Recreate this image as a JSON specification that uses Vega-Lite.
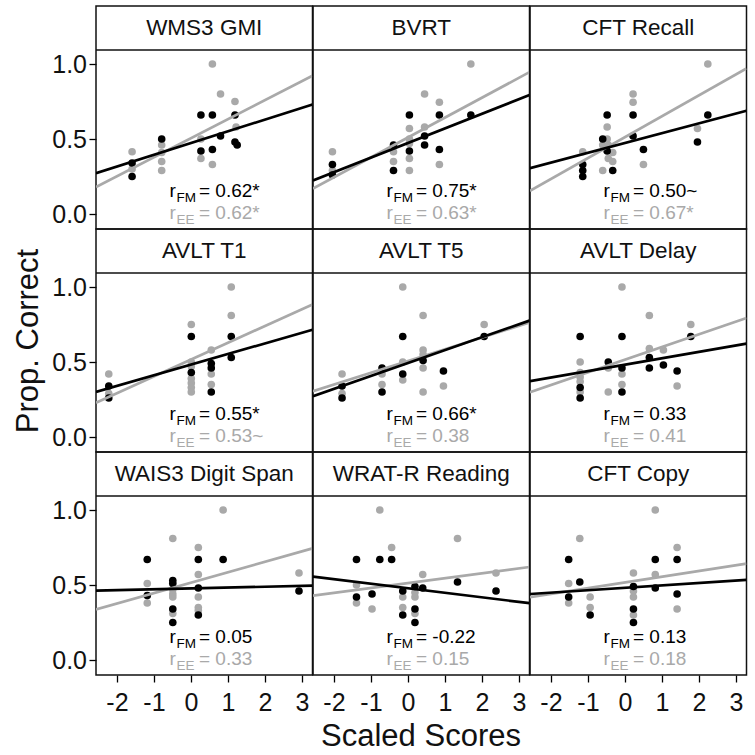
{
"$schema": "https://vega.github.io/schema/vega-lite/v6.json",
"padding": {"left": 12, "top": 5, "right": 5, "bottom": 3},
"bounds": "flush",
"data": {"values": [
{"r":1,"c":1,"k":"s","t":"WMS3 GMI"},
{"r":1,"c":2,"k":"s","t":"BVRT"},
{"r":1,"c":3,"k":"s","t":"CFT Recall"},
{"r":2,"c":1,"k":"s","t":"AVLT T1"},
{"r":2,"c":2,"k":"s","t":"AVLT T5"},
{"r":2,"c":3,"k":"s","t":"AVLT Delay"},
{"r":3,"c":1,"k":"s","t":"WAIS3 Digit Span"},
{"r":3,"c":2,"k":"s","t":"WRAT-R Reading"},
{"r":3,"c":3,"k":"s","t":"CFT Copy"},

{"r":1,"c":1,"k":"a","g":"FM","t":"= 0.62*"},{"r":1,"c":1,"k":"a","g":"EE","t":"= 0.62*"},
{"r":1,"c":2,"k":"a","g":"FM","t":"= 0.75*"},{"r":1,"c":2,"k":"a","g":"EE","t":"= 0.63*"},
{"r":1,"c":3,"k":"a","g":"FM","t":"= 0.50~"},{"r":1,"c":3,"k":"a","g":"EE","t":"= 0.67*"},
{"r":2,"c":1,"k":"a","g":"FM","t":"= 0.55*"},{"r":2,"c":1,"k":"a","g":"EE","t":"= 0.53~"},
{"r":2,"c":2,"k":"a","g":"FM","t":"= 0.66*"},{"r":2,"c":2,"k":"a","g":"EE","t":"= 0.38"},
{"r":2,"c":3,"k":"a","g":"FM","t":"= 0.33"},{"r":2,"c":3,"k":"a","g":"EE","t":"= 0.41"},
{"r":3,"c":1,"k":"a","g":"FM","t":"= 0.05"},{"r":3,"c":1,"k":"a","g":"EE","t":"= 0.33"},
{"r":3,"c":2,"k":"a","g":"FM","t":"= -0.22"},{"r":3,"c":2,"k":"a","g":"EE","t":"= 0.15"},
{"r":3,"c":3,"k":"a","g":"FM","t":"= 0.13"},{"r":3,"c":3,"k":"a","g":"EE","t":"= 0.18"},

{"r":1,"c":1,"k":"l","g":"EE","x":-2.565,"y":0.180},{"r":1,"c":1,"k":"l","g":"EE","x":3.285,"y":0.922},
{"r":1,"c":1,"k":"l","g":"FM","x":-2.565,"y":0.272},{"r":1,"c":1,"k":"l","g":"FM","x":3.285,"y":0.730},
{"r":1,"c":2,"k":"l","g":"EE","x":-2.565,"y":0.169},{"r":1,"c":2,"k":"l","g":"EE","x":3.285,"y":0.946},
{"r":1,"c":2,"k":"l","g":"FM","x":-2.565,"y":0.2235},{"r":1,"c":2,"k":"l","g":"FM","x":3.285,"y":0.793},
{"r":1,"c":3,"k":"l","g":"EE","x":-2.565,"y":0.154},{"r":1,"c":3,"k":"l","g":"EE","x":3.285,"y":0.970},
{"r":1,"c":3,"k":"l","g":"FM","x":-2.565,"y":0.305},{"r":1,"c":3,"k":"l","g":"FM","x":3.285,"y":0.688},
{"r":2,"c":1,"k":"l","g":"EE","x":-2.565,"y":0.228},{"r":2,"c":1,"k":"l","g":"EE","x":3.285,"y":0.884},
{"r":2,"c":1,"k":"l","g":"FM","x":-2.565,"y":0.301},{"r":2,"c":1,"k":"l","g":"FM","x":3.285,"y":0.715},
{"r":2,"c":2,"k":"l","g":"EE","x":-2.565,"y":0.305},{"r":2,"c":2,"k":"l","g":"EE","x":3.285,"y":0.764},
{"r":2,"c":2,"k":"l","g":"FM","x":-2.565,"y":0.272},{"r":2,"c":2,"k":"l","g":"FM","x":3.285,"y":0.776},
{"r":2,"c":3,"k":"l","g":"EE","x":-2.565,"y":0.299},{"r":2,"c":3,"k":"l","g":"EE","x":3.285,"y":0.794},
{"r":2,"c":3,"k":"l","g":"FM","x":-2.565,"y":0.372},{"r":2,"c":3,"k":"l","g":"FM","x":3.285,"y":0.623},
{"r":3,"c":1,"k":"l","g":"EE","x":-2.565,"y":0.337},{"r":3,"c":1,"k":"l","g":"EE","x":3.285,"y":0.744},
{"r":3,"c":1,"k":"l","g":"FM","x":-2.565,"y":0.462},{"r":3,"c":1,"k":"l","g":"FM","x":3.285,"y":0.496},
{"r":3,"c":2,"k":"l","g":"EE","x":-2.565,"y":0.429},{"r":3,"c":2,"k":"l","g":"EE","x":3.285,"y":0.620},
{"r":3,"c":2,"k":"l","g":"FM","x":-2.565,"y":0.556},{"r":3,"c":2,"k":"l","g":"FM","x":3.285,"y":0.379},
{"r":3,"c":3,"k":"l","g":"EE","x":-2.565,"y":0.419},{"r":3,"c":3,"k":"l","g":"EE","x":3.285,"y":0.642},
{"r":3,"c":3,"k":"l","g":"FM","x":-2.565,"y":0.440},{"r":3,"c":3,"k":"l","g":"FM","x":3.285,"y":0.534},

{"r":1,"c":1,"k":"p","g":"EE","x":-1.59,"y":0.415},{"r":1,"c":1,"k":"p","g":"EE","x":-1.59,"y":0.30},{"r":1,"c":1,"k":"p","g":"EE","x":-0.79,"y":0.46},{"r":1,"c":1,"k":"p","g":"EE","x":-0.79,"y":0.41},{"r":1,"c":1,"k":"p","g":"EE","x":-0.79,"y":0.35},{"r":1,"c":1,"k":"p","g":"EE","x":-0.79,"y":0.29},{"r":1,"c":1,"k":"p","g":"EE","x":0.27,"y":0.50},{"r":1,"c":1,"k":"p","g":"EE","x":0.27,"y":0.37},{"r":1,"c":1,"k":"p","g":"EE","x":0.58,"y":1.0},{"r":1,"c":1,"k":"p","g":"EE","x":0.58,"y":0.33},{"r":1,"c":1,"k":"p","g":"EE","x":0.80,"y":0.80},{"r":1,"c":1,"k":"p","g":"EE","x":1.19,"y":0.75},{"r":1,"c":1,"k":"p","g":"EE","x":1.22,"y":0.58},
{"r":1,"c":1,"k":"p","g":"FM","x":-1.59,"y":0.34},{"r":1,"c":1,"k":"p","g":"FM","x":-1.59,"y":0.25},{"r":1,"c":1,"k":"p","g":"FM","x":-0.79,"y":0.50},{"r":1,"c":1,"k":"p","g":"FM","x":0.27,"y":0.66},{"r":1,"c":1,"k":"p","g":"FM","x":0.27,"y":0.42},{"r":1,"c":1,"k":"p","g":"FM","x":0.58,"y":0.66},{"r":1,"c":1,"k":"p","g":"FM","x":0.58,"y":0.43},{"r":1,"c":1,"k":"p","g":"FM","x":0.80,"y":0.52},{"r":1,"c":1,"k":"p","g":"FM","x":1.19,"y":0.66},{"r":1,"c":1,"k":"p","g":"FM","x":1.19,"y":0.48},{"r":1,"c":1,"k":"p","g":"FM","x":1.25,"y":0.46},

{"r":1,"c":2,"k":"p","g":"EE","x":-2.04,"y":0.415},{"r":1,"c":2,"k":"p","g":"EE","x":-2.04,"y":0.29},{"r":1,"c":2,"k":"p","g":"EE","x":-0.39,"y":0.415},{"r":1,"c":2,"k":"p","g":"EE","x":-0.39,"y":0.35},{"r":1,"c":2,"k":"p","g":"EE","x":0.04,"y":0.57},{"r":1,"c":2,"k":"p","g":"EE","x":0.04,"y":0.50},{"r":1,"c":2,"k":"p","g":"EE","x":0.04,"y":0.47},{"r":1,"c":2,"k":"p","g":"EE","x":0.04,"y":0.37},{"r":1,"c":2,"k":"p","g":"EE","x":0.04,"y":0.29},{"r":1,"c":2,"k":"p","g":"EE","x":0.45,"y":0.80},{"r":1,"c":2,"k":"p","g":"EE","x":0.45,"y":0.58},{"r":1,"c":2,"k":"p","g":"EE","x":0.85,"y":0.745},{"r":1,"c":2,"k":"p","g":"EE","x":0.85,"y":0.33},{"r":1,"c":2,"k":"p","g":"EE","x":1.70,"y":1.0},
{"r":1,"c":2,"k":"p","g":"FM","x":-2.04,"y":0.33},{"r":1,"c":2,"k":"p","g":"FM","x":-2.04,"y":0.26},{"r":1,"c":2,"k":"p","g":"FM","x":-0.39,"y":0.46},{"r":1,"c":2,"k":"p","g":"FM","x":-0.39,"y":0.29},{"r":1,"c":2,"k":"p","g":"FM","x":0.04,"y":0.66},{"r":1,"c":2,"k":"p","g":"FM","x":0.04,"y":0.42},{"r":1,"c":2,"k":"p","g":"FM","x":0.45,"y":0.52},{"r":1,"c":2,"k":"p","g":"FM","x":0.45,"y":0.46},{"r":1,"c":2,"k":"p","g":"FM","x":0.85,"y":0.66},{"r":1,"c":2,"k":"p","g":"FM","x":0.85,"y":0.43},{"r":1,"c":2,"k":"p","g":"FM","x":1.70,"y":0.66},

{"r":1,"c":3,"k":"p","g":"EE","x":-1.14,"y":0.415},{"r":1,"c":3,"k":"p","g":"EE","x":-0.60,"y":0.46},{"r":1,"c":3,"k":"p","g":"EE","x":-0.60,"y":0.29},{"r":1,"c":3,"k":"p","g":"EE","x":-0.48,"y":0.58},{"r":1,"c":3,"k":"p","g":"EE","x":-0.48,"y":0.50},{"r":1,"c":3,"k":"p","g":"EE","x":-0.45,"y":0.46},{"r":1,"c":3,"k":"p","g":"EE","x":-0.45,"y":0.37},{"r":1,"c":3,"k":"p","g":"EE","x":-0.33,"y":0.41},{"r":1,"c":3,"k":"p","g":"EE","x":-0.33,"y":0.35},{"r":1,"c":3,"k":"p","g":"EE","x":0.22,"y":0.80},{"r":1,"c":3,"k":"p","g":"EE","x":0.22,"y":0.745},{"r":1,"c":3,"k":"p","g":"EE","x":0.50,"y":0.33},{"r":1,"c":3,"k":"p","g":"EE","x":1.96,"y":0.57},{"r":1,"c":3,"k":"p","g":"EE","x":2.24,"y":1.0},
{"r":1,"c":3,"k":"p","g":"FM","x":-1.14,"y":0.33},{"r":1,"c":3,"k":"p","g":"FM","x":-1.14,"y":0.29},{"r":1,"c":3,"k":"p","g":"FM","x":-1.14,"y":0.25},{"r":1,"c":3,"k":"p","g":"FM","x":-0.60,"y":0.50},{"r":1,"c":3,"k":"p","g":"FM","x":-0.48,"y":0.66},{"r":1,"c":3,"k":"p","g":"FM","x":-0.48,"y":0.42},{"r":1,"c":3,"k":"p","g":"FM","x":-0.33,"y":0.29},{"r":1,"c":3,"k":"p","g":"FM","x":0.22,"y":0.66},{"r":1,"c":3,"k":"p","g":"FM","x":0.22,"y":0.52},{"r":1,"c":3,"k":"p","g":"FM","x":0.50,"y":0.43},{"r":1,"c":3,"k":"p","g":"FM","x":1.96,"y":0.48},{"r":1,"c":3,"k":"p","g":"FM","x":2.24,"y":0.66},

{"r":2,"c":1,"k":"p","g":"EE","x":-2.22,"y":0.42},{"r":2,"c":1,"k":"p","g":"EE","x":-2.22,"y":0.29},{"r":2,"c":1,"k":"p","g":"EE","x":0.01,"y":0.75},{"r":2,"c":1,"k":"p","g":"EE","x":0.01,"y":0.50},{"r":2,"c":1,"k":"p","g":"EE","x":0.01,"y":0.47},{"r":2,"c":1,"k":"p","g":"EE","x":0.01,"y":0.39},{"r":2,"c":1,"k":"p","g":"EE","x":0.01,"y":0.36},{"r":2,"c":1,"k":"p","g":"EE","x":0.01,"y":0.33},{"r":2,"c":1,"k":"p","g":"EE","x":0.01,"y":0.30},{"r":2,"c":1,"k":"p","g":"EE","x":0.55,"y":0.58},{"r":2,"c":1,"k":"p","g":"EE","x":0.55,"y":0.42},{"r":2,"c":1,"k":"p","g":"EE","x":0.55,"y":0.35},{"r":2,"c":1,"k":"p","g":"EE","x":1.09,"y":1.0},{"r":2,"c":1,"k":"p","g":"EE","x":1.09,"y":0.81},
{"r":2,"c":1,"k":"p","g":"FM","x":-2.22,"y":0.34},{"r":2,"c":1,"k":"p","g":"FM","x":-2.22,"y":0.26},{"r":2,"c":1,"k":"p","g":"FM","x":0.01,"y":0.67},{"r":2,"c":1,"k":"p","g":"FM","x":0.01,"y":0.43},{"r":2,"c":1,"k":"p","g":"FM","x":0.55,"y":0.49},{"r":2,"c":1,"k":"p","g":"FM","x":0.55,"y":0.46},{"r":2,"c":1,"k":"p","g":"FM","x":0.55,"y":0.30},{"r":2,"c":1,"k":"p","g":"FM","x":1.09,"y":0.67},{"r":2,"c":1,"k":"p","g":"FM","x":1.09,"y":0.53},

{"r":2,"c":2,"k":"p","g":"EE","x":-1.78,"y":0.42},{"r":2,"c":2,"k":"p","g":"EE","x":-1.78,"y":0.29},{"r":2,"c":2,"k":"p","g":"EE","x":-0.70,"y":0.42},{"r":2,"c":2,"k":"p","g":"EE","x":-0.70,"y":0.35},{"r":2,"c":2,"k":"p","g":"EE","x":-0.14,"y":1.0},{"r":2,"c":2,"k":"p","g":"EE","x":-0.14,"y":0.50},{"r":2,"c":2,"k":"p","g":"EE","x":-0.14,"y":0.38},{"r":2,"c":2,"k":"p","g":"EE","x":0.41,"y":0.81},{"r":2,"c":2,"k":"p","g":"EE","x":0.41,"y":0.58},{"r":2,"c":2,"k":"p","g":"EE","x":0.41,"y":0.55},{"r":2,"c":2,"k":"p","g":"EE","x":0.41,"y":0.46},{"r":2,"c":2,"k":"p","g":"EE","x":0.41,"y":0.30},{"r":2,"c":2,"k":"p","g":"EE","x":0.96,"y":0.34},{"r":2,"c":2,"k":"p","g":"EE","x":2.06,"y":0.75},
{"r":2,"c":2,"k":"p","g":"FM","x":-1.78,"y":0.34},{"r":2,"c":2,"k":"p","g":"FM","x":-1.78,"y":0.26},{"r":2,"c":2,"k":"p","g":"FM","x":-0.70,"y":0.46},{"r":2,"c":2,"k":"p","g":"FM","x":-0.70,"y":0.30},{"r":2,"c":2,"k":"p","g":"FM","x":-0.14,"y":0.67},{"r":2,"c":2,"k":"p","g":"FM","x":-0.14,"y":0.42},{"r":2,"c":2,"k":"p","g":"FM","x":0.41,"y":0.51},{"r":2,"c":2,"k":"p","g":"FM","x":0.96,"y":0.44},{"r":2,"c":2,"k":"p","g":"FM","x":2.06,"y":0.67},

{"r":2,"c":3,"k":"p","g":"EE","x":-1.21,"y":0.50},{"r":2,"c":3,"k":"p","g":"EE","x":-1.21,"y":0.43},{"r":2,"c":3,"k":"p","g":"EE","x":-1.21,"y":0.40},{"r":2,"c":3,"k":"p","g":"EE","x":-1.21,"y":0.37},{"r":2,"c":3,"k":"p","g":"EE","x":-1.21,"y":0.30},{"r":2,"c":3,"k":"p","g":"EE","x":-0.45,"y":0.46},{"r":2,"c":3,"k":"p","g":"EE","x":-0.45,"y":0.30},{"r":2,"c":3,"k":"p","g":"EE","x":-0.08,"y":1.0},{"r":2,"c":3,"k":"p","g":"EE","x":-0.08,"y":0.42},{"r":2,"c":3,"k":"p","g":"EE","x":-0.08,"y":0.35},{"r":2,"c":3,"k":"p","g":"EE","x":0.66,"y":0.81},{"r":2,"c":3,"k":"p","g":"EE","x":0.66,"y":0.59},{"r":2,"c":3,"k":"p","g":"EE","x":1.04,"y":0.58},{"r":2,"c":3,"k":"p","g":"EE","x":1.41,"y":0.34},{"r":2,"c":3,"k":"p","g":"EE","x":1.78,"y":0.75},
{"r":2,"c":3,"k":"p","g":"FM","x":-1.21,"y":0.67},{"r":2,"c":3,"k":"p","g":"FM","x":-1.21,"y":0.33},{"r":2,"c":3,"k":"p","g":"FM","x":-1.21,"y":0.26},{"r":2,"c":3,"k":"p","g":"FM","x":-0.45,"y":0.50},{"r":2,"c":3,"k":"p","g":"FM","x":-0.08,"y":0.67},{"r":2,"c":3,"k":"p","g":"FM","x":-0.08,"y":0.46},{"r":2,"c":3,"k":"p","g":"FM","x":-0.08,"y":0.30},{"r":2,"c":3,"k":"p","g":"FM","x":0.66,"y":0.53},{"r":2,"c":3,"k":"p","g":"FM","x":0.66,"y":0.46},{"r":2,"c":3,"k":"p","g":"FM","x":1.04,"y":0.48},{"r":2,"c":3,"k":"p","g":"FM","x":1.41,"y":0.44},{"r":2,"c":3,"k":"p","g":"FM","x":1.78,"y":0.67},

{"r":3,"c":1,"k":"p","g":"EE","x":-1.18,"y":0.51},{"r":3,"c":1,"k":"p","g":"EE","x":-1.18,"y":0.38},{"r":3,"c":1,"k":"p","g":"EE","x":-0.49,"y":0.81},{"r":3,"c":1,"k":"p","g":"EE","x":-0.49,"y":0.47},{"r":3,"c":1,"k":"p","g":"EE","x":-0.49,"y":0.44},{"r":3,"c":1,"k":"p","g":"EE","x":-0.49,"y":0.42},{"r":3,"c":1,"k":"p","g":"EE","x":-0.49,"y":0.31},{"r":3,"c":1,"k":"p","g":"EE","x":0.20,"y":0.75},{"r":3,"c":1,"k":"p","g":"EE","x":0.20,"y":0.57},{"r":3,"c":1,"k":"p","g":"EE","x":0.20,"y":0.42},{"r":3,"c":1,"k":"p","g":"EE","x":0.20,"y":0.35},{"r":3,"c":1,"k":"p","g":"EE","x":0.20,"y":0.33},{"r":3,"c":1,"k":"p","g":"EE","x":0.87,"y":1.0},{"r":3,"c":1,"k":"p","g":"EE","x":2.92,"y":0.58},
{"r":3,"c":1,"k":"p","g":"FM","x":-1.18,"y":0.67},{"r":3,"c":1,"k":"p","g":"FM","x":-1.18,"y":0.43},{"r":3,"c":1,"k":"p","g":"FM","x":-0.49,"y":0.53},{"r":3,"c":1,"k":"p","g":"FM","x":-0.49,"y":0.51},{"r":3,"c":1,"k":"p","g":"FM","x":-0.49,"y":0.34},{"r":3,"c":1,"k":"p","g":"FM","x":-0.49,"y":0.25},{"r":3,"c":1,"k":"p","g":"FM","x":0.20,"y":0.67},{"r":3,"c":1,"k":"p","g":"FM","x":0.20,"y":0.48},{"r":3,"c":1,"k":"p","g":"FM","x":0.20,"y":0.30},{"r":3,"c":1,"k":"p","g":"FM","x":0.87,"y":0.67},{"r":3,"c":1,"k":"p","g":"FM","x":2.92,"y":0.46},

{"r":3,"c":2,"k":"p","g":"EE","x":-1.39,"y":0.50},{"r":3,"c":2,"k":"p","g":"EE","x":-1.39,"y":0.38},{"r":3,"c":2,"k":"p","g":"EE","x":-0.97,"y":0.34},{"r":3,"c":2,"k":"p","g":"EE","x":-0.76,"y":1.0},{"r":3,"c":2,"k":"p","g":"EE","x":-0.44,"y":0.75},{"r":3,"c":2,"k":"p","g":"EE","x":-0.14,"y":0.42},{"r":3,"c":2,"k":"p","g":"EE","x":-0.14,"y":0.35},{"r":3,"c":2,"k":"p","g":"EE","x":0.19,"y":0.45},{"r":3,"c":2,"k":"p","g":"EE","x":0.19,"y":0.42},{"r":3,"c":2,"k":"p","g":"EE","x":0.19,"y":0.31},{"r":3,"c":2,"k":"p","g":"EE","x":0.40,"y":0.57},{"r":3,"c":2,"k":"p","g":"EE","x":1.34,"y":0.81},{"r":3,"c":2,"k":"p","g":"EE","x":2.38,"y":0.58},
{"r":3,"c":2,"k":"p","g":"FM","x":-1.39,"y":0.67},{"r":3,"c":2,"k":"p","g":"FM","x":-1.39,"y":0.42},{"r":3,"c":2,"k":"p","g":"FM","x":-0.97,"y":0.44},{"r":3,"c":2,"k":"p","g":"FM","x":-0.76,"y":0.67},{"r":3,"c":2,"k":"p","g":"FM","x":-0.44,"y":0.67},{"r":3,"c":2,"k":"p","g":"FM","x":-0.14,"y":0.46},{"r":3,"c":2,"k":"p","g":"FM","x":-0.14,"y":0.30},{"r":3,"c":2,"k":"p","g":"FM","x":0.19,"y":0.49},{"r":3,"c":2,"k":"p","g":"FM","x":0.19,"y":0.34},{"r":3,"c":2,"k":"p","g":"FM","x":0.19,"y":0.25},{"r":3,"c":2,"k":"p","g":"FM","x":0.40,"y":0.48},{"r":3,"c":2,"k":"p","g":"FM","x":1.34,"y":0.52},{"r":3,"c":2,"k":"p","g":"FM","x":2.38,"y":0.46},

{"r":3,"c":3,"k":"p","g":"EE","x":-1.52,"y":0.51},{"r":3,"c":3,"k":"p","g":"EE","x":-1.52,"y":0.38},{"r":3,"c":3,"k":"p","g":"EE","x":-1.22,"y":0.81},{"r":3,"c":3,"k":"p","g":"EE","x":-0.94,"y":0.42},{"r":3,"c":3,"k":"p","g":"EE","x":-0.94,"y":0.35},{"r":3,"c":3,"k":"p","g":"EE","x":0.23,"y":0.58},{"r":3,"c":3,"k":"p","g":"EE","x":0.23,"y":0.46},{"r":3,"c":3,"k":"p","g":"EE","x":0.23,"y":0.42},{"r":3,"c":3,"k":"p","g":"EE","x":0.23,"y":0.30},{"r":3,"c":3,"k":"p","g":"EE","x":0.82,"y":1.0},{"r":3,"c":3,"k":"p","g":"EE","x":0.82,"y":0.57},{"r":3,"c":3,"k":"p","g":"EE","x":1.41,"y":0.75},{"r":3,"c":3,"k":"p","g":"EE","x":1.41,"y":0.34},
{"r":3,"c":3,"k":"p","g":"FM","x":-1.52,"y":0.67},{"r":3,"c":3,"k":"p","g":"FM","x":-1.52,"y":0.42},{"r":3,"c":3,"k":"p","g":"FM","x":-1.22,"y":0.52},{"r":3,"c":3,"k":"p","g":"FM","x":-0.94,"y":0.30},{"r":3,"c":3,"k":"p","g":"FM","x":0.23,"y":0.49},{"r":3,"c":3,"k":"p","g":"FM","x":0.23,"y":0.34},{"r":3,"c":3,"k":"p","g":"FM","x":0.23,"y":0.25},{"r":3,"c":3,"k":"p","g":"FM","x":0.82,"y":0.67},{"r":3,"c":3,"k":"p","g":"FM","x":0.82,"y":0.48},{"r":3,"c":3,"k":"p","g":"FM","x":1.41,"y":0.67},{"r":3,"c":3,"k":"p","g":"FM","x":1.41,"y":0.44}
]},
"facet": {
  "row": {"field": "r", "type": "ordinal", "header": {"title": "Prop. Correct", "labels": false, "titlePadding": -4}},
  "column": {"field": "c", "type": "ordinal", "header": {"title": "Scaled Scores", "titleOrient": "bottom", "labels": false, "titlePadding": -3}}
},
"spacing": 0,
"spec": {
  "width": 216.5,
  "height": 223,
  "layer": [
    {"transform": [{"filter": "datum.k === 'p'"}],
     "mark": {"type": "circle", "size": 58, "opacity": 1},
     "encoding": {
       "x": {"field": "x", "type": "quantitative",
         "scale": {"domain": [-2.565, 3.285], "nice": false, "zero": false},
         "axis": {"title": null, "values": [-2, -1, 0, 1, 2, 3], "labelExpr": "'' + datum.value", "domain": false, "grid": false, "tickSize": 7, "tickColor": "black", "tickWidth": 1.3, "labelFontSize": 25, "labelColor": "#111111", "labelPadding": 8, "labelFont": "Liberation Sans"}},
       "y": {"field": "y", "type": "quantitative",
         "scale": {"domain": [-0.1, 1.3867], "nice": false, "zero": false},
         "axis": {"title": null, "values": [0, 0.5, 1], "labelExpr": "format(datum.value, '.1f')", "domain": false, "grid": false, "tickSize": 7, "tickColor": "black", "tickWidth": 1.3, "labelFontSize": 25, "labelColor": "#111111", "labelPadding": 2.5, "labelFont": "Liberation Sans"}},
       "color": {"field": "g", "type": "nominal", "scale": {"domain": ["EE", "FM"], "range": ["#a9a9a9", "#000000"]}, "legend": null}}},
    {"transform": [{"filter": "datum.k === 'l'"}],
     "mark": {"type": "line", "strokeWidth": 2.7, "clip": true},
     "encoding": {
       "x": {"field": "x", "type": "quantitative"},
       "y": {"field": "y", "type": "quantitative"},
       "color": {"field": "g", "type": "nominal", "legend": null}, "detail": {"field": "g"}, "order": {"field": "x"}}},
    {"transform": [{"filter": "datum.k === 's'"}],
     "mark": {"type": "rule", "color": "#111111", "strokeWidth": 1.5},
     "encoding": {"x": {"datum": -2.565}, "x2": {"datum": 3.285}, "y": {"datum": 1.093}}},
    {"transform": [{"filter": "datum.k === 's'"}],
     "mark": {"type": "text", "fontSize": 22.5, "font": "Liberation Sans", "align": "center", "baseline": "middle", "color": "#111111"},
     "encoding": {"x": {"datum": 0.36}, "y": {"datum": 1.24}, "text": {"field": "t"}}},
    {"transform": [{"filter": "datum.k === 'a' && datum.g === 'FM'"}],
     "mark": {"type": "text", "text": "r", "fontSize": 19, "font": "Liberation Sans", "align": "left", "baseline": "alphabetic", "color": "#000000"},
     "encoding": {"x": {"datum": -0.58}, "y": {"datum": 0.112}}},
    {"transform": [{"filter": "datum.k === 'a' && datum.g === 'FM'"}],
     "mark": {"type": "text", "fontSize": 13.5, "font": "Liberation Sans", "align": "left", "baseline": "alphabetic", "dx": 7, "dy": 5, "color": "#000000"},
     "encoding": {"x": {"datum": -0.58}, "y": {"datum": 0.112}, "text": {"field": "g"}}},
    {"transform": [{"filter": "datum.k === 'a' && datum.g === 'FM'"}],
     "mark": {"type": "text", "fontSize": 19, "font": "Liberation Sans", "align": "left", "baseline": "alphabetic", "dx": 29.5, "color": "#000000"},
     "encoding": {"x": {"datum": -0.58}, "y": {"datum": 0.112}, "text": {"field": "t"}}},
    {"transform": [{"filter": "datum.k === 'a' && datum.g === 'EE'"}],
     "mark": {"type": "text", "text": "r", "fontSize": 19, "font": "Liberation Sans", "align": "left", "baseline": "alphabetic", "color": "#a9a9a9"},
     "encoding": {"x": {"datum": -0.58}, "y": {"datum": -0.03}}},
    {"transform": [{"filter": "datum.k === 'a' && datum.g === 'EE'"}],
     "mark": {"type": "text", "fontSize": 13.5, "font": "Liberation Sans", "align": "left", "baseline": "alphabetic", "dx": 7, "dy": 5, "color": "#a9a9a9"},
     "encoding": {"x": {"datum": -0.58}, "y": {"datum": -0.03}, "text": {"field": "g"}}},
    {"transform": [{"filter": "datum.k === 'a' && datum.g === 'EE'"}],
     "mark": {"type": "text", "fontSize": 19, "font": "Liberation Sans", "align": "left", "baseline": "alphabetic", "dx": 29.5, "color": "#a9a9a9"},
     "encoding": {"x": {"datum": -0.58}, "y": {"datum": -0.03}, "text": {"field": "t"}}}
  ]
},
"config": {
  "font": "Liberation Sans",
  "view": {"stroke": "#111111", "strokeWidth": 1.5},
  "header": {"titleFont": "Liberation Sans", "titleFontSize": 31, "titleFontWeight": "normal", "titleColor": "#111111"}
}
}
